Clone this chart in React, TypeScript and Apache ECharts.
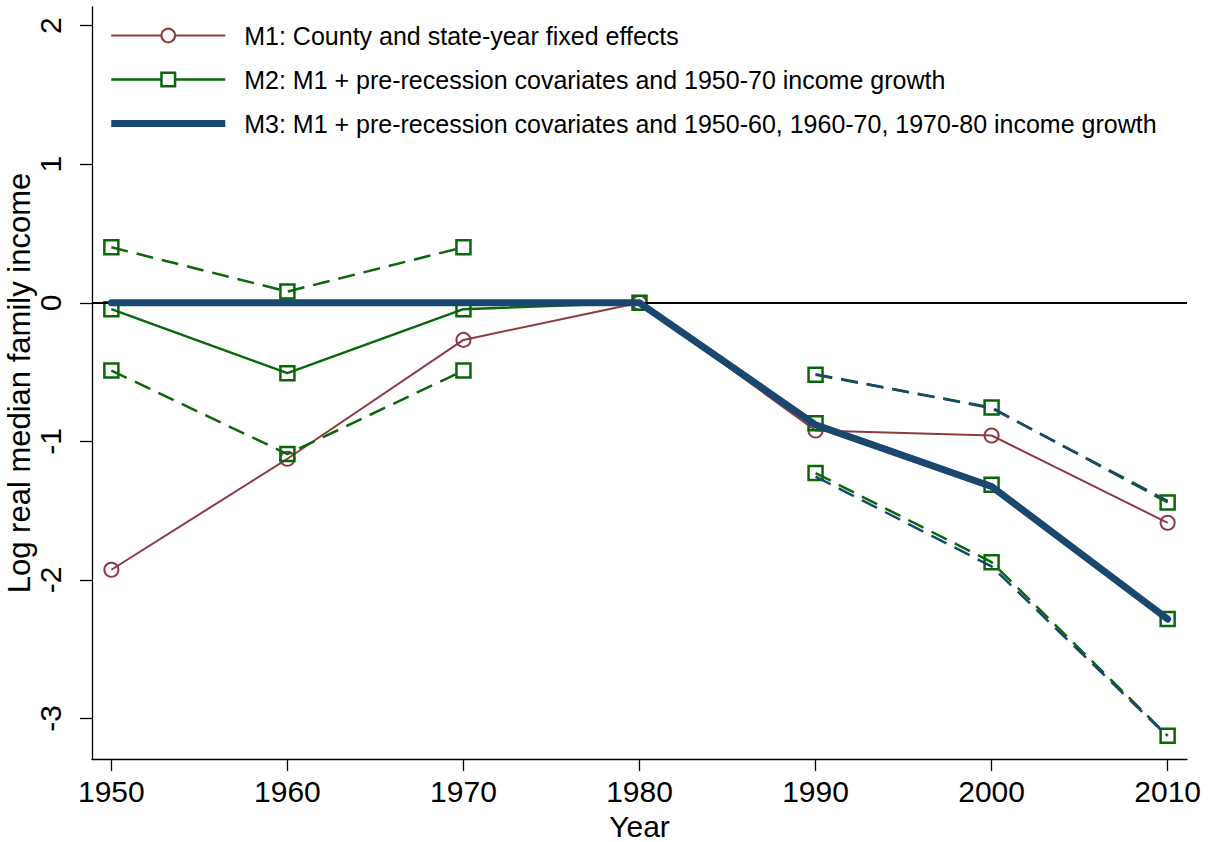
import React, { useEffect, useRef } from "react";
import * as echarts from "echarts";

const years = [1950, 1960, 1970, 1980, 1990, 2000, 2010];
const preYears = [1950, 1960, 1970];
const postYears = [1990, 2000, 2010];
const yTicks = [-3, -2, -1, 0, 1, 2];

const m1 = [-1.927, -1.126, -0.268, 0, -0.922, -0.958, -1.588];
const m2 = [-0.046, -0.508, -0.046, 0, -0.869, -1.314, -2.283];
const m3 = [0, 0, 0, 0, -0.881, -1.326, -2.283];

const m2PreUpper = [0.401, 0.081, 0.401];
const m2PreLower = [-0.489, -1.092, -0.489];
const m2PostUpper = [-0.52, -0.756, -1.441];
const m2PostLower = [-1.229, -1.872, -3.125];
const m3PostUpper = [-0.515, -0.761, -1.43];
const m3PostLower = [-1.254, -1.903, -3.13];

const NAME1 = "M1: County and state-year fixed effects";
const NAME2 = "M2: M1 + pre-recession covariates and 1950-70 income growth";
const NAME3 = "M3: M1 + pre-recession covariates and 1950-60, 1960-70, 1970-80 income growth";

const RED = "#8f3a40";
const GREEN = "#0a670a";
const BLUE = "#1a476f";
const FONT = "'Liberation Sans', Arial, Helvetica, sans-serif";

const zip = (xs: number[], ys: number[]) => xs.map((x, i) => [x, ys[i]]);

export default function App() {
  const ref = useRef<HTMLDivElement>(null);
  useEffect(() => {
    if (!ref.current) return;
    const chart = echarts.init(ref.current, null, { renderer: "svg" });
    const dash = [17, 9];
    const greenCI = (name: string, xs: number[], ys: number[]) => ({
      name,
      type: "line",
      data: zip(xs, ys),
      symbol: "rect",
      symbolSize: 14,
      itemStyle: { color: "rgba(0,0,0,0)", borderColor: GREEN, borderWidth: 2.5 },
      lineStyle: { color: GREEN, width: 2.5, type: dash },
      z: 3,
    });
    const blueCI = (name: string, xs: number[], ys: number[]) => ({
      name,
      type: "line",
      data: zip(xs, ys),
      symbol: "none",
      lineStyle: { color: BLUE, width: 2.5, type: dash },
      z: 4,
    });
    chart.setOption({
      animation: false,
      backgroundColor: "#fff",
      grid: { left: 92, right: 25, top: 7, bottom: 83, containLabel: false, outerBoundsMode: "none" },
      legend: {
        orient: "vertical",
        left: 105,
        top: 18,
        itemWidth: 114,
        itemHeight: 17,
        itemGap: 19,
        selectedMode: false,
        textStyle: { fontSize: 25, fontFamily: FONT, color: "#000", padding: [0, 0, 0, 14], lineHeight: 25 },
        data: [
          {
            name: NAME1,
            itemStyle: { color: "#fff", borderColor: RED, borderWidth: 2 },
            lineStyle: { color: RED, width: 2 },
          },
          {
            name: NAME2,
            itemStyle: { color: "#fff", borderColor: GREEN, borderWidth: 2.5 },
            lineStyle: { color: GREEN, width: 2.5 },
          },
          {
            name: NAME3,
            icon: "path://M0,0H114V7H0Z",
            itemStyle: { color: BLUE },
          },
        ],
      },
      xAxis: {
        type: "value",
        min: 1948.9,
        max: 2011.1,
        name: "Year",
        nameLocation: "middle",
        nameGap: 52,
        nameMoveOverlap: false,
        nameTextStyle: { fontSize: 30, fontFamily: FONT, color: "#000" },
        axisLine: { show: true, onZero: false, lineStyle: { color: "#000", width: 1.3 } },
        axisTick: { show: true, length: 12, lineStyle: { color: "#000", width: 1.3 }, customValues: years },
        axisLabel: {
          customValues: years,
          fontSize: 30,
          fontFamily: FONT,
          color: "#000",
          margin: 17,
          formatter: (v: number) => String(Math.round(v)),
        },
        splitLine: { show: false },
      },
      yAxis: {
        type: "value",
        min: -3.293,
        max: 2.135,
        name: "Log real median family income",
        nameLocation: "middle",
        nameGap: 57,
        nameMoveOverlap: false,
        nameTextStyle: { fontSize: 31, fontFamily: FONT, color: "#000" },
        axisLine: { show: true, onZero: false, lineStyle: { color: "#000", width: 1.3 } },
        axisTick: { show: true, length: 12, lineStyle: { color: "#000", width: 1.3 }, customValues: yTicks },
        axisLabel: {
          customValues: yTicks,
          rotate: 90,
          fontSize: 30,
          fontFamily: FONT,
          color: "#000",
          margin: 27,
          formatter: (v: number) => String(Math.round(v)),
        },
        splitLine: { show: false },
      },
      series: [
        {
          name: "zero",
          type: "line",
          data: [],
          z: 1,
          markLine: {
            silent: true,
            symbol: "none",
            label: { show: false },
            lineStyle: { color: "#000", width: 2, type: "solid" },
            data: [{ yAxis: 0 }],
          },
        },
        {
          name: NAME1,
          type: "line",
          data: zip(years, m1),
          symbol: "circle",
          symbolSize: 14,
          itemStyle: { color: "rgba(0,0,0,0)", borderColor: RED, borderWidth: 2 },
          lineStyle: { color: RED, width: 2 },
          z: 2,
        },
        {
          name: NAME2,
          type: "line",
          data: zip(years, m2),
          symbol: "rect",
          symbolSize: 14,
          itemStyle: { color: "rgba(0,0,0,0)", borderColor: GREEN, borderWidth: 2.5 },
          lineStyle: { color: GREEN, width: 2.5 },
          z: 3,
        },
        greenCI("m2PreUpper", preYears, m2PreUpper),
        greenCI("m2PreLower", preYears, m2PreLower),
        greenCI("m2PostUpper", postYears, m2PostUpper),
        greenCI("m2PostLower", postYears, m2PostLower),
        blueCI("m3PostUpper", postYears, m3PostUpper),
        blueCI("m3PostLower", postYears, m3PostLower),
        {
          name: NAME3,
          type: "line",
          data: zip(years, m3),
          symbol: "none",
          itemStyle: { color: BLUE },
          lineStyle: { color: BLUE, width: 7, cap: "round", join: "round" },
          z: 5,
        },
      ],
    });
    return () => chart.dispose();
  }, []);
  return (
    <div
      ref={ref}
      style={{ position: "fixed", left: 0, top: 0, width: 1212, height: 842, background: "#fff" }}
    />
  );
}
